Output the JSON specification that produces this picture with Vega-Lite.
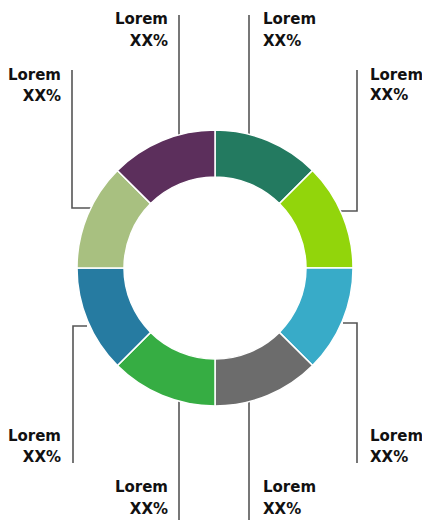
{
  "$schema": "https://vega.github.io/schema/vega-lite/v6.json",
  "width": 422,
  "height": 520,
  "padding": 0,
  "autosize": {"type": "none"},
  "background": "white",
  "config": {"view": {"stroke": null}},
  "datasets": {
    "segments": [
      {"seg": "S1", "idx": 1, "value": 12.5},
      {"seg": "S2", "idx": 2, "value": 12.5},
      {"seg": "S3", "idx": 3, "value": 12.5},
      {"seg": "S4", "idx": 4, "value": 12.5},
      {"seg": "S5", "idx": 5, "value": 12.5},
      {"seg": "S6", "idx": 6, "value": 12.5},
      {"seg": "S7", "idx": 7, "value": 12.5},
      {"seg": "S8", "idx": 8, "value": 12.5}
    ],
    "leaders": [
      {"id": 1, "o": 1, "x": 34, "y": 253},
      {"id": 1, "o": 2, "x": 34, "y": 133},
      {"id": 2, "o": 1, "x": -36, "y": 253},
      {"id": 2, "o": 2, "x": -36, "y": 133},
      {"id": 3, "o": 1, "x": -143, "y": 198},
      {"id": 3, "o": 2, "x": -143, "y": 60},
      {"id": 3, "o": 3, "x": -124, "y": 60},
      {"id": 4, "o": 1, "x": 142, "y": 198},
      {"id": 4, "o": 2, "x": 142, "y": 57},
      {"id": 4, "o": 3, "x": 126, "y": 57},
      {"id": 5, "o": 1, "x": 128, "y": -55},
      {"id": 5, "o": 2, "x": 142, "y": -55},
      {"id": 5, "o": 3, "x": 142, "y": -195},
      {"id": 6, "o": 1, "x": 34, "y": -133},
      {"id": 6, "o": 2, "x": 34, "y": -252},
      {"id": 7, "o": 1, "x": -36, "y": -133},
      {"id": 7, "o": 2, "x": -36, "y": -252},
      {"id": 8, "o": 1, "x": -128, "y": -58},
      {"id": 8, "o": 2, "x": -142, "y": -58},
      {"id": 8, "o": 3, "x": -142, "y": -195}
    ],
    "labelsLeft": [
      {"x": -47, "y": 249.5, "t": "Lorem"},
      {"x": -47, "y": 227, "t": "XX%"},
      {"x": -154, "y": 193, "t": "Lorem"},
      {"x": -154, "y": 172, "t": "XX%"},
      {"x": -154, "y": -167.5, "t": "Lorem"},
      {"x": -154, "y": -188.5, "t": "XX%"},
      {"x": -47, "y": -218.5, "t": "Lorem"},
      {"x": -47, "y": -240.5, "t": "XX%"}
    ],
    "labelsRight": [
      {"x": 48, "y": 249.5, "t": "Lorem"},
      {"x": 48, "y": 227, "t": "XX%"},
      {"x": 155, "y": 193, "t": "Lorem"},
      {"x": 155, "y": 173, "t": "XX%"},
      {"x": 155, "y": -168, "t": "Lorem"},
      {"x": 155, "y": -189, "t": "XX%"},
      {"x": 48, "y": -218.5, "t": "Lorem"},
      {"x": 48, "y": -240.5, "t": "XX%"}
    ]
  },
  "layer": [
    {
      "data": {"name": "leaders"},
      "mark": {"type": "line", "color": "#555555", "strokeWidth": 1.6},
      "encoding": {
        "x": {"field": "x", "type": "quantitative", "scale": {"domain": [-215, 207], "nice": false, "zero": false}, "axis": null},
        "y": {"field": "y", "type": "quantitative", "scale": {"domain": [-252, 268], "nice": false, "zero": false}, "axis": null},
        "detail": {"field": "id"},
        "order": {"field": "o"}
      }
    },
    {
      "data": {"name": "segments"},
      "mark": {"type": "arc", "radius": 138, "innerRadius": 91, "stroke": "white", "strokeWidth": 1.5},
      "encoding": {
        "x": {"datum": 0, "type": "quantitative"},
        "y": {"datum": 0, "type": "quantitative"},
        "theta": {"field": "value", "type": "quantitative", "stack": true},
        "order": {"field": "idx"},
        "color": {
          "field": "seg",
          "type": "nominal",
          "scale": {
            "domain": ["S1", "S2", "S3", "S4", "S5", "S6", "S7", "S8"],
            "range": ["#237a60", "#92d50b", "#38abc8", "#6c6c6c", "#36ad43", "#267ba1", "#a8c080", "#5c2f5c"]
          },
          "legend": null
        }
      }
    },
    {
      "data": {"name": "labelsLeft"},
      "mark": {"type": "text", "align": "right", "baseline": "middle", "font": "DejaVu Sans", "fontWeight": "bold", "fontSize": 15, "color": "#111111"},
      "encoding": {
        "x": {"field": "x", "type": "quantitative"},
        "y": {"field": "y", "type": "quantitative"},
        "text": {"field": "t"}
      }
    },
    {
      "data": {"name": "labelsRight"},
      "mark": {"type": "text", "align": "left", "baseline": "middle", "font": "DejaVu Sans", "fontWeight": "bold", "fontSize": 15, "color": "#111111"},
      "encoding": {
        "x": {"field": "x", "type": "quantitative"},
        "y": {"field": "y", "type": "quantitative"},
        "text": {"field": "t"}
      }
    }
  ]
}
